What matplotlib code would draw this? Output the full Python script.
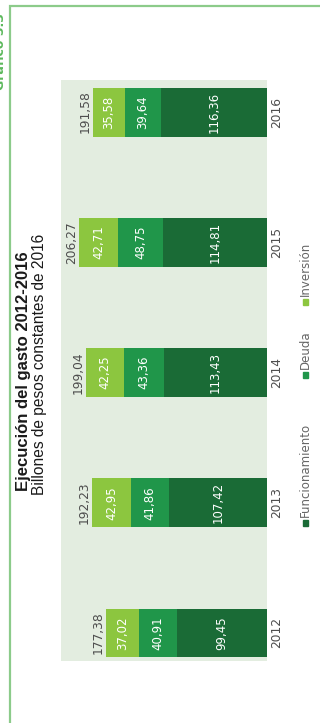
import numpy as np
import matplotlib
matplotlib.use("Agg")
import matplotlib.pyplot as plt
from matplotlib.patches import Rectangle

years = ["2012", "2013", "2014", "2015", "2016"]
funcionamiento = [99.45, 107.42, 113.43, 114.81, 116.36]
deuda = [40.91, 41.86, 43.36, 48.75, 39.64]
inversion = [37.02, 42.95, 42.25, 42.71, 35.58]
totales = [177.38, 192.23, 199.04, 206.27, 191.58]
series_names = ["Funcionamiento", "Deuda", "Inversión"]

c_dark = "#1a6b36"
c_mid = "#20964a"
c_light = "#8cc63f"
c_bg = "#e3ede0"
c_text = "#4d4d4d"

W, H = 320, 723


def fx(x):
    return x / W


def fy(y):
    return 1 - y / H


def fmt(v):
    return f"{v:.2f}".replace(".", ",")


fig = plt.figure(figsize=(W / 100, H / 100), dpi=100)

# green frame, right and bottom sides run off the picture
fig.patches.append(Rectangle((fx(10), fy(740)), fx(330) - fx(10), fy(6) - fy(740),
                             transform=fig.transFigure, fill=False,
                             edgecolor="#8ccb8a", linewidth=1.6))

ax = fig.add_axes([fx(61), fy(661), fx(267) - fx(61), fy(80) - fy(661)])
ax.set_facecolor(c_bg)
for s in ax.spines.values():
    s.set_visible(False)

idx = np.arange(len(years))
bh = 0.376
f = np.array(funcionamiento)
d = np.array(deuda)
i = np.array(inversion)
ax.barh(idx, f, height=bh, color=c_dark)
ax.barh(idx, d, left=f, height=bh, color=c_mid)
ax.barh(idx, i, left=f + d, height=bh, color=c_light)

for k in idx:
    ax.text(f[k] / 2, k, fmt(f[k]), rotation=90, ha="center", va="center",
            color="white", fontsize=8.5)
    ax.text(f[k] + d[k] / 2, k, fmt(d[k]), rotation=90, ha="center", va="center",
            color="white", fontsize=8.5)
    ax.text(f[k] + d[k] + i[k] / 2, k, fmt(i[k]), rotation=90, ha="center",
            va="center", color="white", fontsize=8.5)
    ax.text(totales[k] + 8.3, k, fmt(totales[k]), rotation=90, ha="center",
            va="center", color=c_text, fontsize=8.8)

ax.set_xlim(226.5, 0)
ax.set_ylim(-0.215, 4.246)
ax.set_xticks([])
ax.yaxis.tick_right()
ax.set_yticks(idx, years, rotation=90, va="center", ha="left",
              color=c_text, fontsize=8.8)
ax.tick_params(axis="y", length=0, pad=2)

# titles
fig.text(fx(24), fy(371), "Ejecución del gasto 2012-2016", rotation=90,
         ha="center", va="center", fontsize=12, fontweight="bold",
         family="Liberation Sans", color="#1a1a1a")
fig.text(fx(40), fy(364), "Billones de pesos constantes de 2016", rotation=90,
         ha="center", va="center", fontsize=11.2, family="Liberation Sans",
         color="#1a1a1a")

# caption at the top left, partly outside the picture
fig.text(fx(0.5), fy(90), "Gráfico 5.3", rotation=90, ha="center", va="bottom",
         fontsize=9, fontweight="bold", color="#5cb85c")

# legend
leg_colors = [c_dark, c_mid, c_light]
leg_y = [523, 375, 302]
for name, col, y in zip(series_names, leg_colors, leg_y):
    fig.patches.append(Rectangle((fx(302.5), fy(y + 3)), fx(5), fy(y - 3) - fy(y + 3),
                                 transform=fig.transFigure, color=col))
    fig.text(fx(305), fy(y - 6), name, rotation=90, ha="center", va="bottom",
             fontsize=8.5, color="#666666")

fig.savefig("out.png", dpi=100)
